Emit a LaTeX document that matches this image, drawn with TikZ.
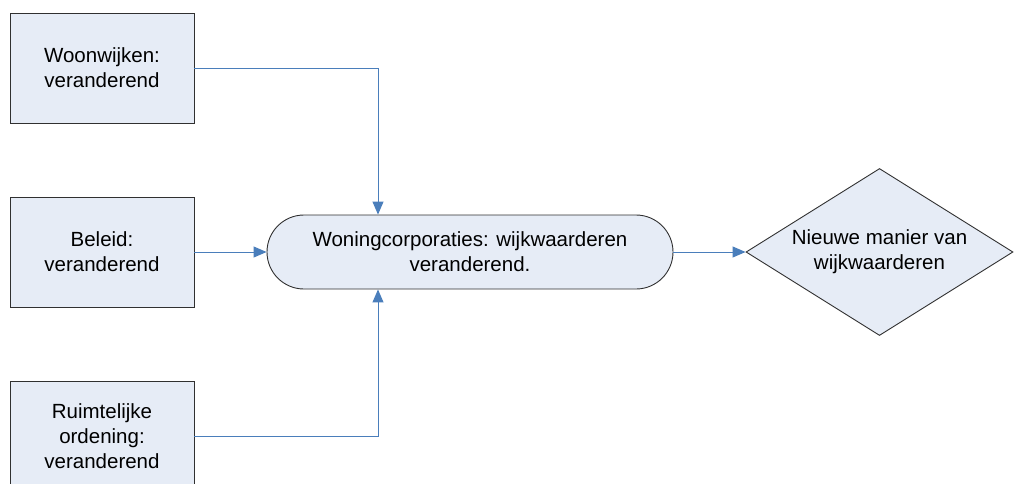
\documentclass[tikz,border=0pt]{standalone}
\usepackage{fontspec}
\setmainfont{Liberation Sans}
\usetikzlibrary{shapes.geometric,arrows.meta}
\definecolor{boxfill}{HTML}{E6ECF6}
\definecolor{linkblue}{HTML}{4A7EBB}
\definecolor{edge}{HTML}{303030}
\begin{document}
\begin{tikzpicture}[x=1pt,y=-1pt,
  every node/.style={font=\fontsize{20.5}{25}\selectfont, align=center, text=black},
  srcbox/.style={draw=edge, fill=boxfill, line width=0.9pt, minimum width=184pt, minimum height=110pt, inner sep=0pt},
  procbox/.style={draw=edge, fill=boxfill, line width=0.9pt, rounded corners=37pt, minimum width=406pt, minimum height=74pt, inner sep=0pt},
  decbox/.style={draw=edge, fill=boxfill, line width=0.9pt, diamond, shape aspect=1.6, minimum width=267pt, minimum height=167pt, inner sep=0pt},
  conn/.style={draw=linkblue, line width=1pt, -{Triangle[length=13pt,width=11pt]}}
]
\useasboundingbox (0,0) rectangle (1014,483);
\node[srcbox] (w) at (102,68) {Woonwijken:\\veranderend};
\node[srcbox] (b) at (102,252) {Beleid:\\veranderend};
\node[srcbox] (ru) at (102,436) {Ruimtelijke\\ordening:\\veranderend};
\node[procbox] (r) at (470,252) {Woningcorporaties: wijkwaarderen\\veranderend.};
\node[decbox] (d) at (879.5,252) {Nieuwe manier van\\wijkwaarderen};
\coordinate (rtop) at ([xshift=-92pt]r.north);
\coordinate (rbot) at ([xshift=-92pt]r.south);
\draw[conn] (w.east) -| (rtop);
\draw[conn] (b.east) -- (r.west);
\draw[conn] (ru.east) -| (rbot);
\draw[conn] (r.east) -- (d.west);
\end{tikzpicture}
\end{document}
